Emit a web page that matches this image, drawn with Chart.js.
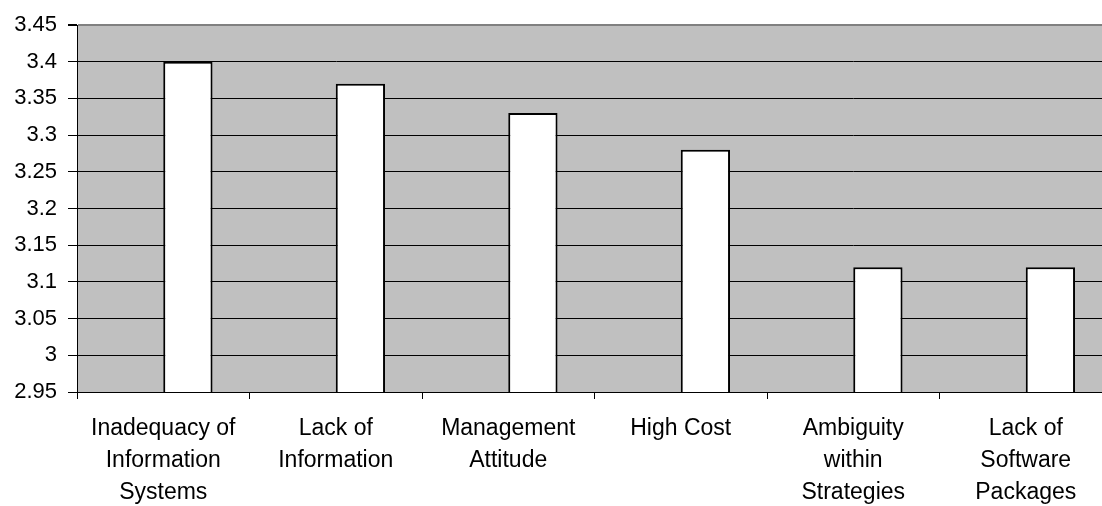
<!DOCTYPE html>
<html>
<head>
<meta charset="utf-8">
<script src="https://cdn.jsdelivr.net/npm/chart.js@4/dist/chart.umd.min.js"></script>
<style>
  html, body { margin: 0; padding: 0; background: #fff; overflow: hidden; }
  #wrap { width: 1120px; height: 520px; }
</style>
</head>
<body>
<div id="wrap"><canvas id="c" width="1120" height="520"></canvas></div>
<script>
// Barriers, mean scores
const categories = [
  ['Inadequacy of', 'Information', 'Systems'],
  ['Lack of', 'Information'],
  ['Management', 'Attitude'],
  ['High Cost'],
  ['Ambiguity', 'within', 'Strategies'],
  ['Lack of', 'Software', 'Packages']
];
const meanScores = [3.40, 3.37, 3.33, 3.28, 3.12, 3.12];
// empty companion series keeps the clustered bar layout
const emptySeries = [null, null, null, null, null, null];
const yTickValues = [2.95, 3.0, 3.05, 3.1, 3.15, 3.2, 3.25, 3.3, 3.35, 3.4, 3.45];

const FONT = "'Liberation Sans', Arial, sans-serif";

const plotBackground = {
  id: 'plotBackground',
  beforeDraw(chart) {
    const a = chart.chartArea, ctx = chart.ctx;
    ctx.save();
    ctx.fillStyle = '#c0c0c0';
    ctx.fillRect(a.left, a.top, a.right - a.left, a.bottom - a.top);
    ctx.restore();
  }
};

new Chart(document.getElementById('c'), {
  type: 'bar',
  data: {
    labels: categories,
    datasets: [
      { label: 'Series 1', data: emptySeries, backgroundColor: '#ffffff' },
      {
        label: 'Mean',
        data: meanScores,
        backgroundColor: '#ffffff',
        borderColor: '#000000',
        borderWidth: 2,
        borderSkipped: false
      }
    ]
  },
  options: {
    responsive: false,
    animation: false,
    devicePixelRatio: 1,
    categoryPercentage: 2 / 3.5,
    barPercentage: 1,
    layout: { padding: { top: 25, right: 8, left: 0, bottom: 0 } },
    plugins: { legend: { display: false }, tooltip: { enabled: false } },
    scales: {
      x: {
        afterFit(scale) { scale.height = 128; },
        grid: {
          offset: true,
          drawOnChartArea: false,
          tickLength: 7,
          tickColor: '#000000',
          color: '#000000'
        },
        border: { display: true, color: '#000000', width: 1 },
        ticks: {
          color: '#000000',
          padding: 14,
          maxRotation: 0,
          autoSkip: false,
          font: { family: FONT, size: 23, lineHeight: 1.39 }
        }
      },
      y: {
        min: 2.95,
        max: 3.45,
        afterFit(scale) { scale.width = 77; },
        afterBuildTicks(scale) { scale.ticks = yTickValues.map(v => ({ value: v })); },
        grid: {
          color: ctx => (ctx.tick && ctx.tick.value === 3.45 ? '#808080' : '#000000'),
          lineWidth: ctx => (ctx.tick && ctx.tick.value === 3.45 ? 2 : 1),
          tickColor: '#000000',
          tickLength: 9
        },
        border: { display: true, color: '#000000', width: 1 },
        ticks: {
          color: '#000000',
          padding: 11,
          font: { family: FONT, size: 22 },
          callback: v => String(Number(Number(v).toFixed(2)))
        }
      }
    }
  },
  plugins: [plotBackground]
});
</script>
</body>
</html>
